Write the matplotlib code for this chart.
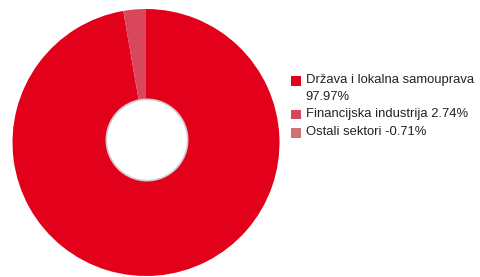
import textwrap
import matplotlib
matplotlib.use('Agg')
import matplotlib.pyplot as plt
from matplotlib.patches import Circle, Rectangle

#===============================================================================
sectors = ['Država i lokalna samouprava', 'Financijska industrija', 'Ostali sektori']
shares  = [97.97, 2.74, -0.71]
colors  = ['#e2001a', '#d9475c', '#cf7272']
#===============================================================================
plt.rcParams['font.family'] = ['Liberation Sans', 'DejaVu Sans']
fig = plt.figure(figsize=(4.8, 2.77), dpi=100, facecolor='w')
ax = fig.add_axes([0, 0, 1, 1])

# negative share cannot be drawn as a wedge
sizes = [max(v, 0) for v in shares]
cx, cy, r = 146, 277 - 142.5, 133.5
ax.pie(sizes, colors=colors, startangle=90, counterclock=False,
       center=(cx, cy), radius=r, wedgeprops=dict(linewidth=0))
ax.add_patch(Circle((147, 277 - 140), 41.5, facecolor='#cfcfcf', lw=0, zorder=5))
ax.add_patch(Circle((147, 277 - 140), 39.8, facecolor='white', lw=0, zorder=6))

ax.set_xlim(0, 480)
ax.set_ylim(0, 277)
ax.set_aspect('equal')
ax.axis('off')

# legend
y = 277 - 76
for name, val, col in zip(sectors, shares, colors):
    lab = textwrap.fill('%s %.2f%%' % (name, val), 28)
    n = lab.count('\n') + 1
    ax.add_patch(Rectangle((291, y - 9.5), 9.5, 9.5, facecolor=col, lw=0))
    ax.text(305.5, y + 2, lab, fontsize=9.4, va='top', ha='left', color='#222222',
            linespacing=1.5)
    y -= 15 * n + 3.5

plt.savefig('out.png', dpi=100)
